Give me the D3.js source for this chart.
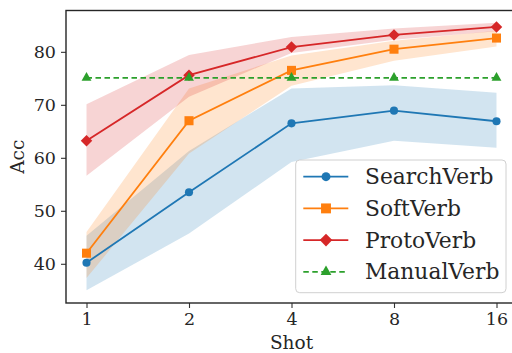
<!DOCTYPE html>
<html>
<head>
<meta charset="utf-8">
<script src="https://cdn.jsdelivr.net/npm/d3@7"></script>
<style>
  body { margin: 0; background: #fff; }
  svg { display: block; font-family: "DejaVu Serif", serif; }
</style>
</head>
<body>
<svg id="chart" width="512" height="353"></svg>
<script>
// data
const shots = ["1", "2", "4", "8", "16"];
const searchVerb = [40.2, 53.5, 66.5, 68.9, 66.9];
const searchLo = [35.0, 45.7, 59.2, 63.2, 61.9];
const searchHi = [45.3, 61.3, 73.1, 73.7, 72.3];
const softVerb = [42.0, 67.0, 76.5, 80.5, 82.6];
const softLo = [37.3, 60.8, 73.6, 78.3, 81.0];
const softHi = [46.0, 73.1, 79.3, 82.1, 84.0];
const protoVerb = [63.2, 75.6, 80.9, 83.2, 84.7];
const protoLo = [56.6, 71.5, 79.8, 82.3, 83.9];
const protoHi = [70.1, 79.4, 82.8, 84.4, 85.5];
const manualVerb = [75.1, 75.1, 75.1, 75.1, 75.1];
const yTicks = [40, 50, 60, 70, 80];

// matplotlib-style "D" marker: a square turned 45 degrees
const symbolD = {
  draw: function(ctx, size) {
    const r = Math.sqrt(size / 2);
    ctx.moveTo(0, -r); ctx.lineTo(r, 0); ctx.lineTo(0, r); ctx.lineTo(-r, 0); ctx.closePath();
  }
};

const series = [
  {name: "SearchVerb", vals: searchVerb, lo: searchLo, hi: searchHi, color: "#1f77b4", marker: d3.symbolCircle, size: 52},
  {name: "SoftVerb", vals: softVerb, lo: softLo, hi: softHi, color: "#ff7f0e", marker: d3.symbolSquare, size: 82},
  {name: "ProtoVerb", vals: protoVerb, lo: protoLo, hi: protoHi, color: "#d62728", marker: symbolD, size: 66},
  {name: "ManualVerb", vals: manualVerb, color: "#2ca02c", marker: d3.symbolTriangle, size: 42, dash: "5.5,3.5"}
];

const margins = {left: 66, right: -5, top: 10.5, bottom: 50};
const width = 512, height = 353;
const svg = d3.select("#chart");

// index scale, with matplotlib-like 5% padding
const x = d3.scaleLinear()
  .domain([-0.2, 4.2])
  .range([margins.left, width - margins.right]);
const y = d3.scaleLinear()
  .domain([32.6, 87.8])
  .range([height - margins.bottom, margins.top]);

const plot = svg.append("g");

// bands
series.filter(s => s.lo).forEach(function(s) {
  const area = d3.area()
    .x((d, i) => x(i))
    .y0((d, i) => y(s.lo[i]))
    .y1((d, i) => y(s.hi[i]));
  plot.append("path")
    .datum(s.vals)
    .attr("d", area)
    .attr("fill", s.color)
    .attr("fill-opacity", 0.2);
});

// lines + markers
series.forEach(function(s) {
  const line = d3.line().x((d, i) => x(i)).y(d => y(d));
  plot.append("path")
    .datum(s.vals)
    .attr("d", line)
    .attr("fill", "none")
    .attr("stroke", s.color)
    .attr("stroke-width", 1.8)
    .attr("stroke-dasharray", s.dash || null);
  plot.selectAll(null)
    .data(s.vals)
    .enter().append("path")
      .attr("transform", (d, i) => "translate(" + x(i) + "," + y(d) + ")")
      .attr("d", d3.symbol().type(s.marker).size(s.size))
      .attr("fill", s.color);
});

// axes
const xAxis = svg.append("g")
  .attr("transform", "translate(0," + (height - margins.bottom) + ")")
  .call(d3.axisBottom(x).tickValues(d3.range(shots.length)).tickFormat(i => shots[i]).tickSize(5).tickPadding(5));
const yAxis = svg.append("g")
  .attr("transform", "translate(" + margins.left + ",0)")
  .call(d3.axisLeft(y).tickValues(yTicks).tickSize(5).tickPadding(5));

[xAxis, yAxis].forEach(function(a) {
  a.select(".domain").remove();
  a.selectAll(".tick line").attr("stroke", "#333").attr("stroke-width", 1.1);
  a.selectAll(".tick text")
    .attr("fill", "#262626")
    .style("font-family", "DejaVu Serif")
    .style("font-size", "17.5px");
});

// spines
svg.append("rect")
  .attr("x", margins.left)
  .attr("y", margins.top)
  .attr("width", x.range()[1] - margins.left)
  .attr("height", height - margins.bottom - margins.top)
  .attr("fill", "none")
  .attr("stroke", "#262626")
  .attr("stroke-width", 1.4);

// axis titles
svg.append("text")
  .attr("x", x(2))
  .attr("y", 349)
  .attr("text-anchor", "middle")
  .attr("fill", "#262626")
  .style("font-size", "18.5px")
  .text("Shot");
svg.append("text")
  .attr("transform", "translate(24," + ((margins.top + height - margins.bottom) / 2) + ") rotate(-90)")
  .attr("text-anchor", "middle")
  .attr("fill", "#262626")
  .style("font-size", "18.5px")
  .text("Acc");

// legend
const legend = svg.append("g");
legend.append("rect")
  .attr("x", 295.7).attr("y", 160)
  .attr("width", 210.3).attr("height", 132.7)
  .attr("rx", 4)
  .attr("fill", "#fff").attr("fill-opacity", 0.85)
  .attr("stroke", "#d0d0d0").attr("stroke-width", 1);

series.forEach(function(s, i) {
  const ly = 176.7 + i * 31.7;
  const row = legend.append("g").attr("transform", "translate(0," + ly + ")");
  row.append("line")
    .attr("x1", 303.3).attr("x2", 348.3)
    .attr("stroke", s.color).attr("stroke-width", 1.8)
    .attr("stroke-dasharray", s.dash || null);
  row.append("path")
    .attr("transform", "translate(326,0)")
    .attr("d", d3.symbol().type(s.marker).size(s.size * 1.2))
    .attr("fill", s.color);
  row.append("text")
    .attr("x", 365)
    .attr("y", 7.5)
    .attr("fill", "#262626")
    .style("font-size", "21.8px")
    .text(s.name);
});
</script>
</body>
</html>
